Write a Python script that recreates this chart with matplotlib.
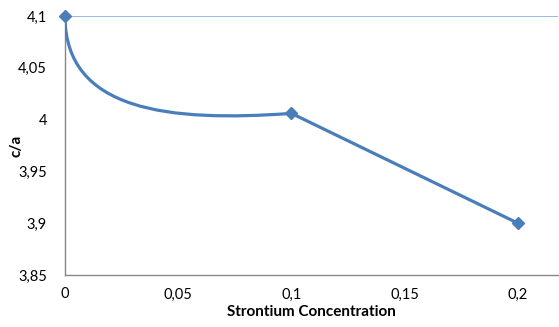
import matplotlib
matplotlib.use("Agg")
import matplotlib.pyplot as plt
from matplotlib.path import Path
from matplotlib.patches import PathPatch
import numpy as np

# data
sr = [0, 0.1, 0.2]
ca = [4.1, 4.006, 3.9]
xticks = [0, 0.05, 0.1, 0.15, 0.2]
xlabels = ["0", "0,05", "0,1", "0,15", "0,2"]
yticks = [3.85, 3.9, 3.95, 4, 4.05, 4.1]
ylabels = ["3,85", "3,9", "3,95", "4", "4,05", "4,1"]

blue = "#4A7EBB"
plt.rcParams['font.family'] = ['Lato', 'DejaVu Sans']

fig = plt.figure(figsize=(5.59, 3.27), dpi=100)
ax = fig.add_axes([65/559, 1 - 275/327, (558 - 65)/559, (275 - 16)/327])

# Excel style smoothed first segment, straight second one
x0, y0 = sr[0], ca[0]
x1, y1 = sr[1], ca[1]
dx, dy = x1 - x0, y1 - y0
verts = [(x0, y0), (x0, y0 + 0.98*dy), (x0 + 0.46*dx, y0 + 1.09*dy), (x1, y1),
         (sr[2], ca[2])]
codes = [Path.MOVETO, Path.CURVE4, Path.CURVE4, Path.CURVE4, Path.LINETO]
ax.add_patch(PathPatch(Path(verts, codes), fill=False, edgecolor=blue, lw=2.3,
                       capstyle='round', joinstyle='round', zorder=3))
ax.plot(sr, ca, linestyle='none', marker='D', ms=6.5, color=blue, zorder=4,
        clip_on=False)

ax.axhline(ca[0], color="#8DB4E2", lw=1.3, zorder=2)

ax.set_xlim(0, 0.2177)
ax.set_ylim(3.85, 4.1)
ax.set_xticks(xticks)
ax.set_xticklabels(xlabels)
ax.set_yticks(yticks)
ax.set_yticklabels(ylabels)
ax.tick_params(length=0, labelsize=10.5, colors='black')
ax.tick_params(axis='y', pad=13)
ax.tick_params(axis='x', pad=9)

for s in ['top', 'right']:
    ax.spines[s].set_visible(False)
for s in ['left', 'bottom']:
    ax.spines[s].set_color('#868686')
    ax.spines[s].set_linewidth(1.0)

ax.set_xlabel("Strontium Concentration", fontsize=11, fontweight='bold')
ax.set_ylabel("c/a", fontsize=11, fontweight='bold')
ax.xaxis.set_label_coords(0.5, -0.115)
ax.yaxis.set_label_coords(-0.085, 0.5)

fig.savefig("out.png", dpi=100)
